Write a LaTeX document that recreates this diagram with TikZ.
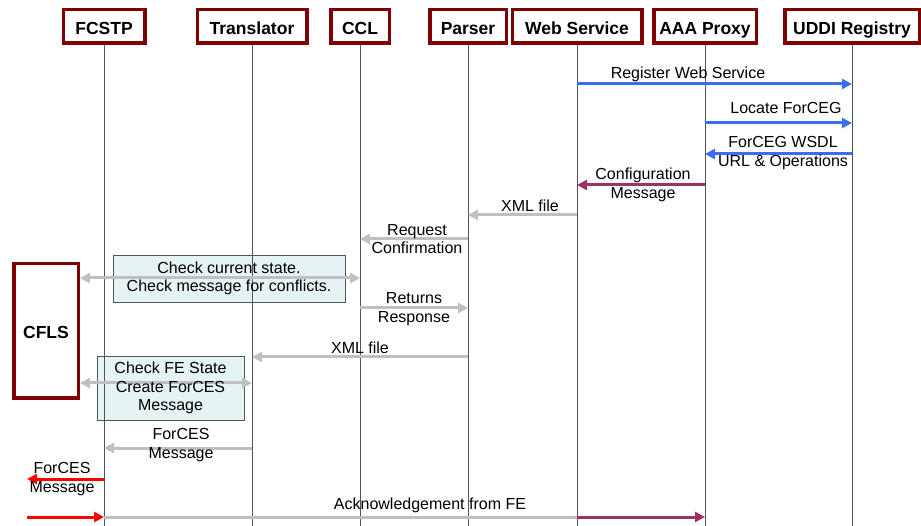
\documentclass[tikz,border=0pt]{standalone}
\usepackage{fontspec}
\setmainfont{Liberation Sans}
\usetikzlibrary{arrows.meta}

\definecolor{boxred}{HTML}{7F0000}
\definecolor{msgblue}{HTML}{3A6EF2}
\definecolor{msgplum}{HTML}{993366}
\definecolor{msggray}{HTML}{C0C0C0}
\definecolor{msgred}{HTML}{FF0000}
\definecolor{notefill}{HTML}{E6F3F5}
\definecolor{lanegray}{HTML}{555555}

\begin{document}
\begin{tikzpicture}[
  x=1pt, y=-1pt,
  hdr/.style={draw=boxred, line width=3.5pt, fill=white, inner sep=0pt, minimum height=33.5pt,
    text height=19pt, text depth=3.7pt, font=\fontsize{17.5}{20}\selectfont\bfseries},
  note/.style={draw=lanegray, line width=0.8pt, fill=notefill, inner sep=0pt},
  lane/.style={draw=lanegray, line width=0.9pt},
  tip/.style={-{Triangle[length=10pt,width=10pt]}},
  gmsg/.style={tip, draw=msggray, line width=3pt},
  bmsg/.style={tip, draw=msgblue, line width=3pt},
  pmsg/.style={tip, draw=msgplum, line width=3pt},
  rmsg/.style={tip, draw=msgred, line width=3pt},
  gboth/.style={{Triangle[length=10pt,width=10pt]}-{Triangle[length=10pt,width=10pt]}, draw=msggray, line width=3pt},
  lbl/.style={align=center, inner sep=0pt, font=\fontsize{16}{18.5}\selectfont}
]
\useasboundingbox (0,0) rectangle (921,526);

% headers
\node[hdr, minimum width=81.5pt] (fcstp) at (104,26.5) {FCSTP};
\node[hdr, minimum width=109.5pt] (trans) at (252,26.5) {Translator};
\node[hdr, minimum width=58.5pt] (ccl) at (360,26.5) {CCL};
\node[hdr, minimum width=76.5pt] (parser) at (468,26.5) {Parser};
\node[hdr, minimum width=129.5pt] (ws) at (577,26.5) {Web Service};
\node[hdr, minimum width=102.5pt] (aaa) at (705,26.5) {AAA Proxy};
\node[hdr, minimum width=134.5pt] (uddi) at (852,26.5) {UDDI Registry};

% local store
\node[hdr, minimum width=64.5pt, minimum height=134.5pt] (cfls) at (46,331) {CFLS};

% processing notes (text goes on top later)
\node[note, minimum width=232pt, minimum height=47pt] (chkstate) at (229,278.5) {};
\node[note, minimum width=147pt, minimum height=64pt] (chkfe) at (170.5,388) {};

% lifelines
\draw[lane] (fcstp.south) -- (fcstp |- 0,526);
\draw[lane] (trans.south) -- (trans |- 0,526);
\draw[lane] (ccl.south) -- (ccl |- 0,526);
\draw[lane] (parser.south) -- (parser |- 0,526);
\draw[lane] (ws.south) -- (ws |- 0,526);
\draw[lane] (aaa.south) -- (aaa |- 0,526);
\draw[lane] (uddi.south) -- (uddi |- 0,526);

% registry lookup
\draw[bmsg] (ws |- 0,84) -- (uddi |- 0,84);
\node[lbl] (register) at (688,74) {Register Web Service};
\draw[bmsg] (aaa |- 0,123) -- (uddi |- 0,123);
\node[lbl] (locate) at (786,108) {Locate ForCEG};
\draw[bmsg] (uddi |- 0,154) -- (aaa |- 0,154);
\node[lbl] (wsdl) at (783,153) {ForCEG WSDL\\URL \& Operations};
\draw[pmsg] (aaa |- 0,185) -- (ws |- 0,185);
\node[lbl] (config) at (643,185) {Configuration\\Message};

% parsing and checks
\draw[gmsg] (ws |- 0,215) -- (parser |- 0,215);
\node[lbl] (xml1) at (530,206) {XML file};
\draw[gmsg] (parser |- 0,239) -- (ccl |- 0,239);
\node[lbl] (request) at (417,239) {Request\\Confirmation};
\draw[gboth] (cfls.east |- 0,278) -- (ccl |- 0,278);
\node[lbl] (chkstatetxt) at (chkstate.center) {Check current state.\\Check message for conflicts.};
\draw[gmsg] (ccl |- 0,308) -- (parser |- 0,308);
\node[lbl] (returns) at (414,309) {Returns\\Response};
\draw[gmsg] (parser |- 0,357) -- (trans |- 0,357);
\node[lbl] (xml2) at (360,348) {XML file};
\draw[gboth] (cfls.east |- 0,383) -- (trans |- 0,383);
\node[lbl] (chkfetxt) at (chkfe.center) {Check FE State\\Create ForCES\\Message};

% outgoing message and reply
\draw[gmsg] (trans |- 0,448) -- (fcstp |- 0,448);
\node[lbl] (forces1) at (181,445) {ForCES\\Message};
\coordinate (feout) at (27,479);
\draw[rmsg] (fcstp |- 0,479) -- (feout);
\node[lbl] (forces2) at (62,479) {ForCES\\Message};
\coordinate (fein) at (27,517);
\draw[rmsg] (fein) -- (fcstp |- 0,517);
\draw[draw=msggray, line width=3pt] (fcstp |- 0,517) -- (ws |- 0,517);
\draw[pmsg] (ws |- 0,517) -- (aaa |- 0,517);
\node[lbl] (ack) at (430,505) {Acknowledgement from FE};
\end{tikzpicture}
\end{document}
